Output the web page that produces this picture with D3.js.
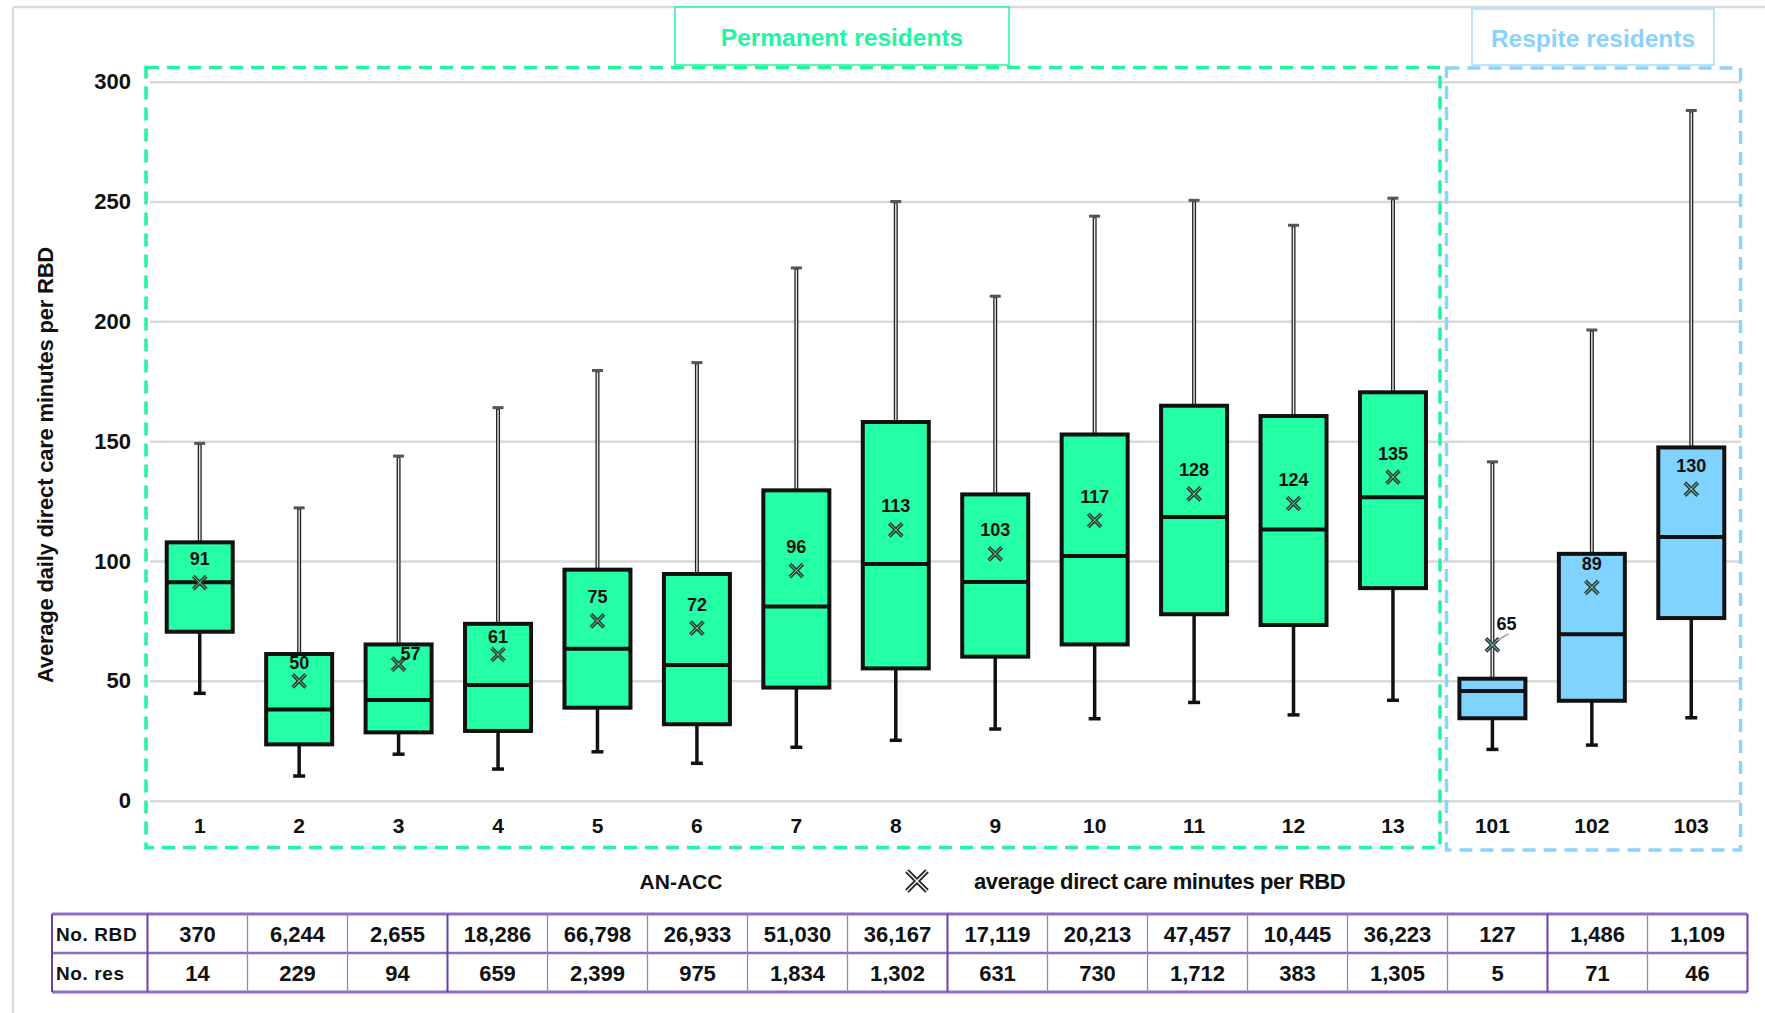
<!DOCTYPE html>
<html><head><meta charset="utf-8">
<script src="https://cdn.jsdelivr.net/npm/d3@7"></script>
<style>
html,body{margin:0;padding:0;background:#fff;}
svg{display:block;font-family:"Liberation Sans",Arial,sans-serif;}
</style></head>
<body>
<svg id="c" width="1765" height="1013"></svg>
<script>
const categories = ["1","2","3","4","5","6","7","8","9","10","11","12","13","101","102","103"];
const groups = ["P","P","P","P","P","P","P","P","P","P","P","P","P","R","R","R"];
const whiskerLow  = [44.8,10.3,19.4,13.2,20.4,15.6,22.3,25.2,29.9,34.2,41.0,35.8,41.9,21.4,23.2,34.6];
const q1          = [70.5,23.5,28.5,29.1,38.8,31.9,47.2,55.2,60.1,65.2,77.8,73.3,88.7,34.4,41.7,76.2];
const median      = [91.1,38.1,42.0,48.3,63.4,56.6,81.0,98.8,91.2,102.1,118.4,113.2,126.6,45.8,69.5,110.0];
const q3          = [107.8,61.2,65.2,73.8,96.4,94.6,129.5,158.0,127.8,152.8,164.8,160.5,170.4,50.9,103.0,147.4];
const whiskerHigh = [149.1,122.2,143.8,164.0,179.5,182.8,222.3,250.0,210.5,243.9,250.5,240.1,251.4,141.4,196.4,288.0];
const means       = [91,50,57,61,75,72,96,113,103,117,128,124,135,65,89,130];
const noRBD = [370,6244,2655,18286,66798,26933,51030,36167,17119,20213,47457,10445,36223,127,1486,1109];
const noRes = [14,229,94,659,2399,975,1834,1302,631,730,1712,383,1305,5,71,46];
const yTicks = [0,50,100,150,200,250,300];
const rowLabels = ["No. RBD","No. res"];
const groupTitles = ["Permanent residents","Respite residents"];
const yTitle = "Average daily direct care minutes per RBD";
const xTitle = "AN-ACC";
const legendText = "average direct care minutes per RBD";

const GREEN = "#24FFA6", BLUE = "#80D3FF";
const GREEN_LINE = "#22F5A0", BLUE_LINE = "#8CD4FB";
const svg = d3.select("#c");

svg.append("rect").attr("x",0).attr("y",0).attr("width",1765).attr("height",1013).attr("fill","#fff");
// outer frame
svg.append("line").attr("x1",13).attr("x2",1765).attr("y1",7).attr("y2",7).attr("stroke","#d9d9d9").attr("stroke-width",2.5);
svg.append("line").attr("x1",13).attr("x2",13).attr("y1",7).attr("y2",1013).attr("stroke","#d9d9d9").attr("stroke-width",2.5);

const y = d3.scaleLinear().domain([0,300]).range([800.7,81.7]);
const x = d3.scaleBand().domain(categories).range([150,1741]).padding(0);
const xt = d3.scaleBand().domain(categories).range([147.5,1747.5]).padding(0);
const boxW = 66;

// gridlines
const grid = d3.axisLeft(y).tickValues(yTicks).tickSize(-(1741-150)).tickFormat("");
svg.append("g").attr("transform","translate(150,0)").call(grid)
  .call(g=>g.select(".domain").remove())
  .call(g=>g.selectAll("line").attr("stroke","#d9d9d9").attr("stroke-width",2.5));

// y tick labels
const ya = d3.axisLeft(y).tickValues(yTicks).tickSize(0).tickPadding(0);
svg.append("g").attr("transform","translate(131,0)").call(ya)
  .call(g=>g.select(".domain").remove())
  .call(g=>g.selectAll("text").attr("font-size",22).attr("font-weight","bold").attr("fill","#111")
    .attr("font-family","'Liberation Sans',Arial,sans-serif"));

// x tick labels
const xa = d3.axisBottom(x).tickSize(0).tickPadding(0);
svg.append("g").attr("transform","translate(0,826)").call(xa)
  .call(g=>g.select(".domain").remove())
  .call(g=>g.selectAll("text").attr("font-size",21).attr("font-weight","bold").attr("fill","#111")
    .attr("dy","0.35em").attr("font-family","'Liberation Sans',Arial,sans-serif"));

// y title
svg.append("text").attr("transform","translate(45,465) rotate(-90)").attr("text-anchor","middle")
  .attr("dominant-baseline","central").attr("font-size",22).attr("font-weight","bold").attr("fill","#111")
  .attr("letter-spacing","-0.2").text(yTitle);

// group dashed frames
svg.append("rect").attr("x",146).attr("y",67.5).attr("width",1440-146).attr("height",847.5-67.5)
  .attr("fill","none").attr("stroke",GREEN_LINE).attr("stroke-width",3.5).attr("stroke-dasharray","13,8");
svg.append("rect").attr("x",1446.5).attr("y",68).attr("width",1740.5-1446.5).attr("height",850-68)
  .attr("fill","none").attr("stroke",BLUE_LINE).attr("stroke-width",3.5).attr("stroke-dasharray","13,8");

// group titles
const tb = [{x:675,y:7,w:334,h:58,c:GREEN_LINE,t:groupTitles[0],tc:"#22F5A0"},
            {x:1472,y:9,w:242,h:56,c:"#A6DDFB",t:groupTitles[1],tc:"#8AD2FB"}];
tb.forEach(b=>{
  svg.append("rect").attr("x",b.x).attr("y",b.y).attr("width",b.w).attr("height",b.h)
    .attr("fill","#fff").attr("stroke",b.c).attr("stroke-width",1.5);
  svg.append("text").attr("x",b.x+b.w/2).attr("y",b.y+b.h/2+1).attr("text-anchor","middle")
    .attr("dominant-baseline","central").attr("font-size",24.5).attr("font-weight","bold")
    .attr("fill",b.tc).text(b.t);
});

// boxes
const data = categories.map((c,i)=>({c,i,g:groups[i],lo:whiskerLow[i],q1:q1[i],med:median[i],q3:q3[i],hi:whiskerHigh[i],mean:means[i]}));
const bg = svg.append("g");
data.forEach(d=>{
  const cx = x(d.c)+x.bandwidth()/2;
  const g = bg.append("g");
  // upper whisker: double thin line
  g.append("line").attr("x1",cx).attr("x2",cx).attr("y1",y(d.hi)).attr("y2",y(d.q3))
    .attr("stroke","#222").attr("stroke-width",4);
  g.append("line").attr("x1",cx).attr("x2",cx).attr("y1",y(d.hi)+2).attr("y2",y(d.q3))
    .attr("stroke","#e8e8e8").attr("stroke-width",1.4);
  g.append("line").attr("x1",cx-5.5).attr("x2",cx+5.5).attr("y1",y(d.hi)).attr("y2",y(d.hi))
    .attr("stroke","#555").attr("stroke-width",3);
  // lower whisker
  g.append("line").attr("x1",cx).attr("x2",cx).attr("y1",y(d.q1)).attr("y2",y(d.lo))
    .attr("stroke","#111").attr("stroke-width",3.5);
  g.append("line").attr("x1",cx-6).attr("x2",cx+6).attr("y1",y(d.lo)).attr("y2",y(d.lo))
    .attr("stroke","#111").attr("stroke-width",3.5);
  // box
  g.append("rect").attr("x",cx-boxW/2).attr("y",y(d.q3)).attr("width",boxW).attr("height",y(d.q1)-y(d.q3))
    .attr("fill",d.g==="P"?GREEN:BLUE).attr("stroke","#111").attr("stroke-width",4);
  g.append("line").attr("x1",cx-boxW/2).attr("x2",cx+boxW/2).attr("y1",y(d.med)).attr("y2",y(d.med))
    .attr("stroke","#111").attr("stroke-width",4);
  // mean marker
  const my = y(d.mean), s = 6.5;
  const xp = `M${cx-s},${my-s}L${cx+s},${my+s}M${cx+s},${my-s}L${cx-s},${my+s}`;
  g.append("path").attr("d",xp).attr("stroke","#263f34").attr("stroke-width",3.8).attr("fill","none");
  g.append("path").attr("d",xp).attr("stroke",d.g==="P"?"#6fd9ad":"#a8dcf5").attr("stroke-width",0.9).attr("fill","none");
  // mean label
  let lx = cx, ly = my-23.5;
  if (d.c==="2" || d.c==="4") { ly = my-17.5; }
  if (d.c==="3") { lx = cx+12; ly = my-10; }
  if (d.c==="101") {
    lx = cx+14; ly = my-21;
    g.append("line").attr("x1",cx+4).attr("y1",my-4).attr("x2",cx+16).attr("y2",my-11)
      .attr("stroke","#999").attr("stroke-width",1.5);
  }
  g.append("text").attr("x",lx).attr("y",ly).attr("text-anchor","middle").attr("dominant-baseline","central")
    .attr("font-size",18).attr("font-weight","bold").attr("fill","#111").text(d.mean);
});

// legend
svg.append("text").attr("x",681).attr("y",881).attr("text-anchor","middle").attr("dominant-baseline","central")
  .attr("font-size",21).attr("font-weight","bold").attr("fill","#111").text(xTitle);
{
  const cx=917, cy=881, s=10;
  const xp = `M${cx-s},${cy-s}L${cx+s},${cy+s}M${cx+s},${cy-s}L${cx-s},${cy+s}`;
  svg.append("path").attr("d",xp).attr("stroke","#222").attr("stroke-width",5).attr("fill","none");
  svg.append("path").attr("d",xp).attr("stroke","#fff").attr("stroke-width",1.4).attr("fill","none");
}
svg.append("text").attr("x",974).attr("y",881).attr("dominant-baseline","central")
  .attr("font-size",22).attr("font-weight","bold").attr("fill","#111").attr("letter-spacing","-0.4").text(legendText);

// table
const tTop = 914, rowH = 39, tLeft = 52, tRight = 1747.5;
const tbl = svg.append("g");
const rows = [noRBD, noRes];
const fmt = d3.format(",");
rows.forEach((arr,r)=>{
  const cy = tTop + rowH*r + rowH/2;
  tbl.append("text").attr("x",tLeft+4).attr("y",cy+1).attr("dominant-baseline","central")
    .attr("font-size",19).attr("font-weight","bold").attr("fill","#111").attr("letter-spacing","0.6").text(rowLabels[r]);
  arr.forEach((v,i)=>{
    tbl.append("text").attr("x",xt(categories[i])+xt.bandwidth()/2).attr("y",cy+1)
      .attr("text-anchor","middle").attr("dominant-baseline","central")
      .attr("font-size",22).attr("font-weight","bold").attr("fill","#111").text(fmt(v));
  });
});
// horizontal lines
[tTop, tTop+rowH, tTop+2*rowH].forEach((yy,k)=>{
  tbl.append("line").attr("x1",tLeft).attr("x2",tRight).attr("y1",yy).attr("y2",yy)
    .attr("stroke",k===1?"#8a6cc8":"#8e6cc8").attr("stroke-width",k===1?2.5:3);
});
// vertical lines
const vx = [tLeft].concat(categories.map(c=>xt(c))).concat([tRight]);
const thick = new Set([1,4,9,15]);
vx.forEach((xx,k)=>{
  const strong = thick.has(k)||k===0||k===vx.length-1;
  tbl.append("line").attr("x1",xx).attr("x2",xx).attr("y1",tTop).attr("y2",tTop+2*rowH)
    .attr("stroke",strong?"#6a3fb0":"#9a80d0").attr("stroke-width",strong?2:1.3);
});
</script>
</body></html>
